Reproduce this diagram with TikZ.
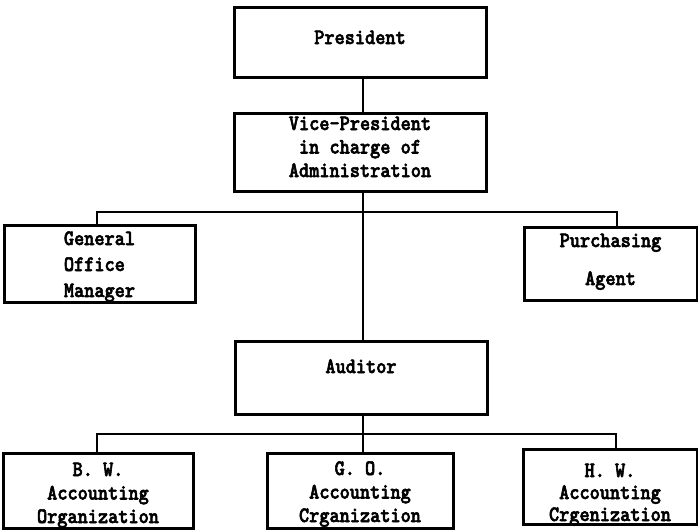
\documentclass[tikz,border=0pt]{standalone}
\usepackage{fontspec}
\newfontfamily\tw[FakeStretch=0.88, FakeBold=2.5]{lmmonolt10-bold.otf}
\begin{document}
\begin{tikzpicture}[x=1pt,y=-1pt,
  box/.style={draw, line width=3pt, rectangle, inner sep=0pt, align=center,
    font=\tw\fontsize{22}{23.5}\selectfont},
  link/.style={line width=2.4pt, line join=miter}]
\useasboundingbox (0,0) rectangle (698,531);

\node[box, minimum width=252, minimum height=70, text height=13, text depth=9] (pres) at (360,42) {President};
\node[box, minimum width=252, minimum height=78, text height=60, text depth=10] (vp) at (360,152) {Vice-President\\in charge of\\Administration};
\node[box, minimum width=191, minimum height=77, text height=70, text depth=3, align=left,
  font=\tw\fontsize{22}{26}\selectfont] (gom) at (99.5,263.5) {General\\Office\\Manager};
\node[box, minimum width=173, minimum height=73, text height=52, text depth=9] (pa) at (610.5,263.5) {Purchasing\\[14.5pt]Agent};
\node[box, minimum width=252, minimum height=73, text height=13, text depth=22] (aud) at (361,377.5) {Auditor};
\node[box, minimum width=190, minimum height=75, text height=68, text depth=3] (bw) at (98,490.5) {B. W.\\Accounting\\Organization};
\node[box, minimum width=186, minimum height=75, text height=66, text depth=3] (go) at (360,490.5) {G. O.\\Accounting\\Crganization};
\node[box, minimum width=174, minimum height=69, text height=72, text depth=3,
  font=\tw\fontsize{22}{22}\selectfont] (hw) at (610,486.5) {H. W.\\Accounting\\Crgenization};

\coordinate (s) at (363,0);
\coordinate (b1) at (97,212);
\coordinate (b2) at (617,212);
\coordinate (c1) at (97,434);
\coordinate (c2) at (616,434);

\draw[link] (pres.south -| s) -- (vp.north -| s);
\draw[link] (vp.south -| s) -- (aud.north -| s);
\draw[link] (gom.north -| b1) -- (b1) -- (b2) -- (pa.north -| b2);
\draw[link] (aud.south -| s) -- (go.north -| s);
\draw[link] (bw.north -| c1) -- (c1) -- (c2) -- (hw.north -| c2);
\end{tikzpicture}
\end{document}
